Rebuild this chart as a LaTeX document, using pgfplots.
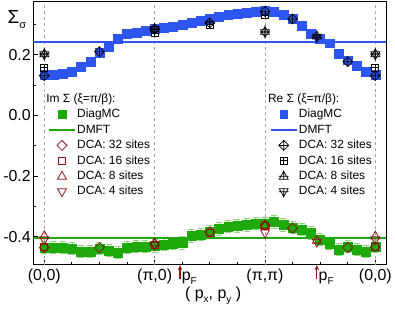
\documentclass[border=0pt]{standalone}
\usepackage{pgfplots}
\pgfplotsset{compat=1.18}
\usepackage{pgfplotstable}
\usepackage{fontspec}
\setmainfont{Liberation Sans}
\usetikzlibrary{arrows.meta}
\definecolor{mblue}{RGB}{45,85,240}
\definecolor{lblue}{RGB}{150,170,250}
\definecolor{mgreen}{RGB}{30,170,10}
\definecolor{lgreen}{RGB}{140,215,120}
\definecolor{dred}{RGB}{140,20,20}

\pgfdeclareplotmark{dia}{%
 \pgfpathmoveto{\pgfqpoint{0pt}{\pgfplotmarksize}}%
 \pgfpathlineto{\pgfqpoint{\pgfplotmarksize}{0pt}}%
 \pgfpathlineto{\pgfqpoint{0pt}{-\pgfplotmarksize}}%
 \pgfpathlineto{\pgfqpoint{-\pgfplotmarksize}{0pt}}%
 \pgfpathclose\pgfusepathqstroke}
\pgfdeclareplotmark{diaplus}{%
 \pgfpathmoveto{\pgfqpoint{0pt}{\pgfplotmarksize}}%
 \pgfpathlineto{\pgfqpoint{\pgfplotmarksize}{0pt}}%
 \pgfpathlineto{\pgfqpoint{0pt}{-\pgfplotmarksize}}%
 \pgfpathlineto{\pgfqpoint{-\pgfplotmarksize}{0pt}}%
 \pgfpathclose
 \pgfpathmoveto{\pgfqpoint{0pt}{\pgfplotmarksize}}\pgfpathlineto{\pgfqpoint{0pt}{-\pgfplotmarksize}}%
 \pgfpathmoveto{\pgfqpoint{-\pgfplotmarksize}{0pt}}\pgfpathlineto{\pgfqpoint{\pgfplotmarksize}{0pt}}%
 \pgfusepathqstroke}
\pgfdeclareplotmark{sq}{%
 \pgfpathrectangle{\pgfqpoint{-\pgfplotmarksize}{-\pgfplotmarksize}}{\pgfqpoint{2\pgfplotmarksize}{2\pgfplotmarksize}}%
 \pgfusepathqstroke}
\pgfdeclareplotmark{sqplus}{%
 \pgfpathrectangle{\pgfqpoint{-\pgfplotmarksize}{-\pgfplotmarksize}}{\pgfqpoint{2\pgfplotmarksize}{2\pgfplotmarksize}}%
 \pgfpathmoveto{\pgfqpoint{0pt}{\pgfplotmarksize}}\pgfpathlineto{\pgfqpoint{0pt}{-\pgfplotmarksize}}%
 \pgfpathmoveto{\pgfqpoint{-\pgfplotmarksize}{0pt}}\pgfpathlineto{\pgfqpoint{\pgfplotmarksize}{0pt}}%
 \pgfusepathqstroke}
\pgfdeclareplotmark{tri}{%
 \pgfpathmoveto{\pgfqpoint{0pt}{\pgfplotmarksize}}%
 \pgfpathlineto{\pgfqpoint{-0.9\pgfplotmarksize}{-0.6\pgfplotmarksize}}%
 \pgfpathlineto{\pgfqpoint{0.9\pgfplotmarksize}{-0.6\pgfplotmarksize}}%
 \pgfpathclose\pgfusepathqstroke}
\pgfdeclareplotmark{triplus}{%
 \pgfpathmoveto{\pgfqpoint{0pt}{\pgfplotmarksize}}%
 \pgfpathlineto{\pgfqpoint{-0.9\pgfplotmarksize}{-0.6\pgfplotmarksize}}%
 \pgfpathlineto{\pgfqpoint{0.9\pgfplotmarksize}{-0.6\pgfplotmarksize}}%
 \pgfpathclose
 \pgfpathmoveto{\pgfqpoint{0pt}{1.2\pgfplotmarksize}}\pgfpathlineto{\pgfqpoint{0pt}{-0.6\pgfplotmarksize}}%
 \pgfpathmoveto{\pgfqpoint{-\pgfplotmarksize}{0pt}}\pgfpathlineto{\pgfqpoint{\pgfplotmarksize}{0pt}}%
 \pgfusepathqstroke}
\pgfdeclareplotmark{trid}{%
 \pgfpathmoveto{\pgfqpoint{0pt}{-\pgfplotmarksize}}%
 \pgfpathlineto{\pgfqpoint{-0.9\pgfplotmarksize}{0.6\pgfplotmarksize}}%
 \pgfpathlineto{\pgfqpoint{0.9\pgfplotmarksize}{0.6\pgfplotmarksize}}%
 \pgfpathclose\pgfusepathqstroke}
\pgfdeclareplotmark{tridplus}{%
 \pgfpathmoveto{\pgfqpoint{0pt}{-\pgfplotmarksize}}%
 \pgfpathlineto{\pgfqpoint{-0.9\pgfplotmarksize}{0.6\pgfplotmarksize}}%
 \pgfpathlineto{\pgfqpoint{0.9\pgfplotmarksize}{0.6\pgfplotmarksize}}%
 \pgfpathclose
 \pgfpathmoveto{\pgfqpoint{0pt}{-1.2\pgfplotmarksize}}\pgfpathlineto{\pgfqpoint{0pt}{0.6\pgfplotmarksize}}%
 \pgfpathmoveto{\pgfqpoint{-\pgfplotmarksize}{0pt}}\pgfpathlineto{\pgfqpoint{\pgfplotmarksize}{0pt}}%
 \pgfusepathqstroke}

\pgfplotstableread{
x y e
0 0.134 0.01
0.0833 0.134 0.01
0.1667 0.138 0.01
0.25 0.144 0.01
0.3333 0.161 0.01
0.4167 0.177 0.01
0.5 0.207 0.01
0.5833 0.226 0.01
0.6667 0.252 0.01
0.75 0.269 0.01
0.8333 0.272 0.01
0.9167 0.279 0.01
1.0 0.285 0.01
1.0833 0.289 0.01
1.1667 0.292 0.01
1.25 0.298 0.01
1.3333 0.305 0.01
1.4167 0.311 0.01
1.5 0.318 0.01
1.5833 0.325 0.01
1.6667 0.331 0.01
1.75 0.334 0.01
1.8333 0.338 0.01
1.9167 0.341 0.01
2.0 0.344 0.01
2.0833 0.341 0.01
2.1667 0.333 0.01
2.25 0.318 0.01
2.3333 0.295 0.01
2.4167 0.268 0.01
2.5 0.254 0.01
2.5833 0.238 0.01
2.6667 0.205 0.01
2.75 0.182 0.01
2.8333 0.163 0.01
2.9167 0.145 0.01
3.0 0.134 0.01
}\reMC

\pgfplotstableread{
x y e
0 -0.436 0.02
0.0833 -0.436 0.02
0.1667 -0.436 0.02
0.25 -0.439 0.02
0.3333 -0.449 0.02
0.4167 -0.449 0.02
0.5 -0.439 0.02
0.5833 -0.446 0.02
0.6667 -0.452 0.02
0.75 -0.436 0.02
0.8333 -0.433 0.02
0.9167 -0.433 0.02
1.0 -0.430 0.02
1.0833 -0.426 0.02
1.1667 -0.423 0.02
1.25 -0.420 0.02
1.3333 -0.397 0.02
1.4167 -0.393 0.02
1.5 -0.384 0.02
1.5833 -0.374 0.02
1.6667 -0.367 0.02
1.75 -0.364 0.02
1.8333 -0.361 0.02
1.9167 -0.357 0.02
2.0 -0.357 0.02
2.0833 -0.351 0.02
2.1667 -0.361 0.02
2.25 -0.370 0.02
2.3333 -0.377 0.02
2.4167 -0.387 0.02
2.5 -0.410 0.02
2.5833 -0.423 0.02
2.6667 -0.443 0.02
2.75 -0.433 0.02
2.8333 -0.443 0.02
2.9167 -0.449 0.02
3.0 -0.433 0.02
}\imMC

\pgfplotstableread{
x re im
-0.1 0.243 -0.405
3.1 0.243 -0.405
}\dmft

\begin{document}
\begin{tikzpicture}
\pgfplotsset{
  legend image code/.code={\draw[mark repeat=2,mark phase=2,#1] plot coordinates {(0pt,0pt) (13pt,0pt) (26pt,0pt)};},
  common/.style={
    scale only axis, width=355pt, height=264pt,
    xmin=-0.1, xmax=3.1, ymin=-0.492, ymax=0.374,
  },
  leg/.style={
    legend style={draw=none, fill=none, inner sep=0pt, anchor=north west,
      font=\fontsize{12}{14}\selectfont, row sep=0pt,
      nodes={inner sep=1.5pt, text height=9.5pt, text depth=3pt}},
    legend cell align=left,
  },
}
\begin{axis}[common, leg, name=main, clip=false,
  xtick={0,1,2,3}, xticklabels={(0,0),(π,0),(π,π),(0,0)},
  minor xtick={0.25,0.5,0.75,1.25,1.5,1.75,2.25,2.5,2.75},
  ytick={-0.4,-0.2,0,0.2}, yticklabels={-0.4,-0.2,0.0,0.2},
  minor ytick={-0.3,-0.1,0.1,0.3},
  tick pos=left, tick align=inside,
  major tick length=5pt, minor tick length=3pt,
  axis line style={line width=1pt},
  every tick/.style={black, line width=0.8pt},
  ticklabel style={font=\fontsize{16}{18}\selectfont},
  xticklabel style={yshift=-1pt},
  yticklabel style={xshift=1pt},
  legend style={at={(0.042,0.66)}},
]
% dashed guides
\addplot[color=gray!70, dashed, line width=0.8pt, forget plot] coordinates {(0,-0.492) (0,0.374)};
\addplot[color=gray!70, dashed, line width=0.8pt, forget plot] coordinates {(1,-0.492) (1,0.374)};
\addplot[color=gray!70, dashed, line width=0.8pt, forget plot] coordinates {(2,-0.492) (2,0.374)};
\addplot[color=gray!70, dashed, line width=0.8pt, forget plot] coordinates {(3,-0.492) (3,0.374)};
% DiagMC Re
\addplot[forget plot, only marks, mark=square*, mark size=4.5pt, color=mblue,
  error bars/.cd, y dir=both, y explicit,
  error bar style={color=lblue, line width=0.6pt},
  error mark options={rotate=90, mark size=2.5pt, color=lblue, line width=0.6pt}]
  table[x=x, y=y, y error=e] {\reMC};
% DMFT Re
\addplot[forget plot, mark=none, draw=mblue, line width=2pt] table[x=x, y=re] {\dmft};
% DiagMC Im
\addplot[forget plot, only marks, mark=square*, mark size=4.5pt, color=mgreen,
  error bars/.cd, y dir=both, y explicit,
  error bar style={color=lgreen, line width=0.6pt},
  error mark options={rotate=90, mark size=3pt, color=lgreen, line width=0.6pt}]
  table[x=x, y=y, y error=e] {\imMC};
\addplot[forget plot, mark=none, draw=mgreen, line width=1.5pt] table[x=x, y=im] {\dmft};
% DCA Re
\addplot[forget plot, only marks, mark=diaplus, mark size=5pt, color=black, line width=0.7pt]
 coordinates {(0,0.131)(0.5,0.21)(1,0.285)(1.5,0.305)(2,0.343)(2.25,0.318)(2.75,0.177)(3,0.131)};
\addplot[forget plot, only marks, mark=sqplus, mark size=3.5pt, color=black, line width=0.7pt]
 coordinates {(0,0.157)(1,0.272)(1.5,0.300)(2,0.330)(3,0.157)};
\addplot[forget plot, only marks, mark=triplus, mark size=5pt, color=black, line width=0.7pt]
 coordinates {(0,0.203)(1,0.287)(2,0.277)(2.47,0.262)(3,0.203)};
\addplot[forget plot, only marks, mark=tridplus, mark size=5pt, color=black, line width=0.7pt]
 coordinates {(0,0.200)(1,0.283)(2,0.273)(2.47,0.258)(3,0.200)};
% DCA Im
\addplot[forget plot, only marks, mark=dia, mark size=5pt, color=dred, line width=0.8pt]
 coordinates {(0,-0.436)(0.5,-0.436)(1,-0.425)(1.5,-0.384)(2,-0.362)(2.25,-0.372)(2.75,-0.436)(3,-0.433)};
\addplot[forget plot, only marks, mark=sq, mark size=3.5pt, color=dred, line width=0.8pt]
 coordinates {(0,-0.433)(1,-0.428)(1.5,-0.386)(2,-0.366)(3,-0.433)};
\addplot[forget plot, only marks, mark=tri, mark size=5pt, color=dred, line width=0.8pt]
 coordinates {(0,-0.397)(1,-0.420)(2,-0.362)(2.47,-0.412)(3,-0.398)};
\addplot[forget plot, only marks, mark=trid, mark size=5pt, color=dred, line width=0.8pt]
 coordinates {(0,-0.410)(1,-0.428)(2,-0.388)(2.47,-0.418)(3,-0.410)};
% legend Im
\addlegendimage{empty legend}
\addlegendentry{\hspace{-31pt}Im Σ (ξ=π/β):}
\addlegendimage{only marks, mark=square*, mark size=4pt, color=mgreen}
\addlegendentry{DiagMC}
\addlegendimage{draw=mgreen, color=mgreen, line width=1.5pt}
\addlegendentry{DMFT}
\addlegendimage{only marks, mark=dia, mark size=5pt, color=dred, line width=0.8pt}
\addlegendentry{DCA: 32 sites}
\addlegendimage{only marks, mark=sq, mark size=3.5pt, color=dred, line width=0.8pt}
\addlegendentry{DCA: 16 sites}
\addlegendimage{only marks, mark=tri, mark size=5pt, color=dred, line width=0.8pt}
\addlegendentry{DCA: 8 sites}
\addlegendimage{only marks, mark=trid, mark size=5pt, color=dred, line width=0.8pt}
\addlegendentry{DCA: 4 sites}
% annotations
\draw[dred, line width=1.3pt, -{Stealth[length=5pt,width=4.5pt]}] (axis cs:1.23,-0.538) -- (axis cs:1.23,-0.494);
\draw[dred, line width=1.3pt, -{Stealth[length=5pt,width=4.5pt]}] (axis cs:2.47,-0.538) -- (axis cs:2.47,-0.494);
\node[anchor=base west, inner sep=0pt, font=\fontsize{16}{18}\selectfont] at (axis cs:1.245,-0.545) {p\raisebox{-0.45ex}{\fontsize{10}{12}\selectfont F}};
\node[anchor=base west, inner sep=0pt, font=\fontsize{16}{18}\selectfont] at (axis cs:2.485,-0.545) {p\raisebox{-0.45ex}{\fontsize{10}{12}\selectfont F}};
\node[inner sep=0pt, font=\fontsize{16}{18}\selectfont] at (axis cs:1.53,-0.596) {( p\raisebox{-0.45ex}{\fontsize{10}{12}\selectfont x}, p\raisebox{-0.45ex}{\fontsize{10}{12}\selectfont y} )};
\node[anchor=base west, inner sep=0pt, font=\fontsize{19}{21}\selectfont] at (rel axis cs:0,1) [xshift=-26pt, yshift=-22pt] {Σ\raisebox{-0.5ex}{\fontsize{11}{12}\selectfont σ}};
\path (rel axis cs:0,0) ++(-32pt,-47pt) rectangle ++(395pt,313pt);
\end{axis}
\begin{axis}[common, leg, at={(main.south west)}, anchor=south west, hide axis,
  legend style={at={(0.670,0.66)}}]
\addlegendimage{empty legend}
\addlegendentry{\hspace{-31pt}Re Σ (ξ=π/β):}
\addlegendimage{only marks, mark=square*, mark size=4pt, color=mblue}
\addlegendentry{DiagMC}
\addlegendimage{draw=mblue, color=mblue, line width=1.5pt}
\addlegendentry{DMFT}
\addlegendimage{only marks, mark=diaplus, mark size=5pt, color=black, line width=0.7pt}
\addlegendentry{DCA: 32 sites}
\addlegendimage{only marks, mark=sqplus, mark size=3.5pt, color=black, line width=0.7pt}
\addlegendentry{DCA: 16 sites}
\addlegendimage{only marks, mark=triplus, mark size=5pt, color=black, line width=0.7pt}
\addlegendentry{DCA: 8 sites}
\addlegendimage{only marks, mark=tridplus, mark size=5pt, color=black, line width=0.7pt}
\addlegendentry{DCA: 4 sites}
\end{axis}
\end{tikzpicture}
\end{document}
